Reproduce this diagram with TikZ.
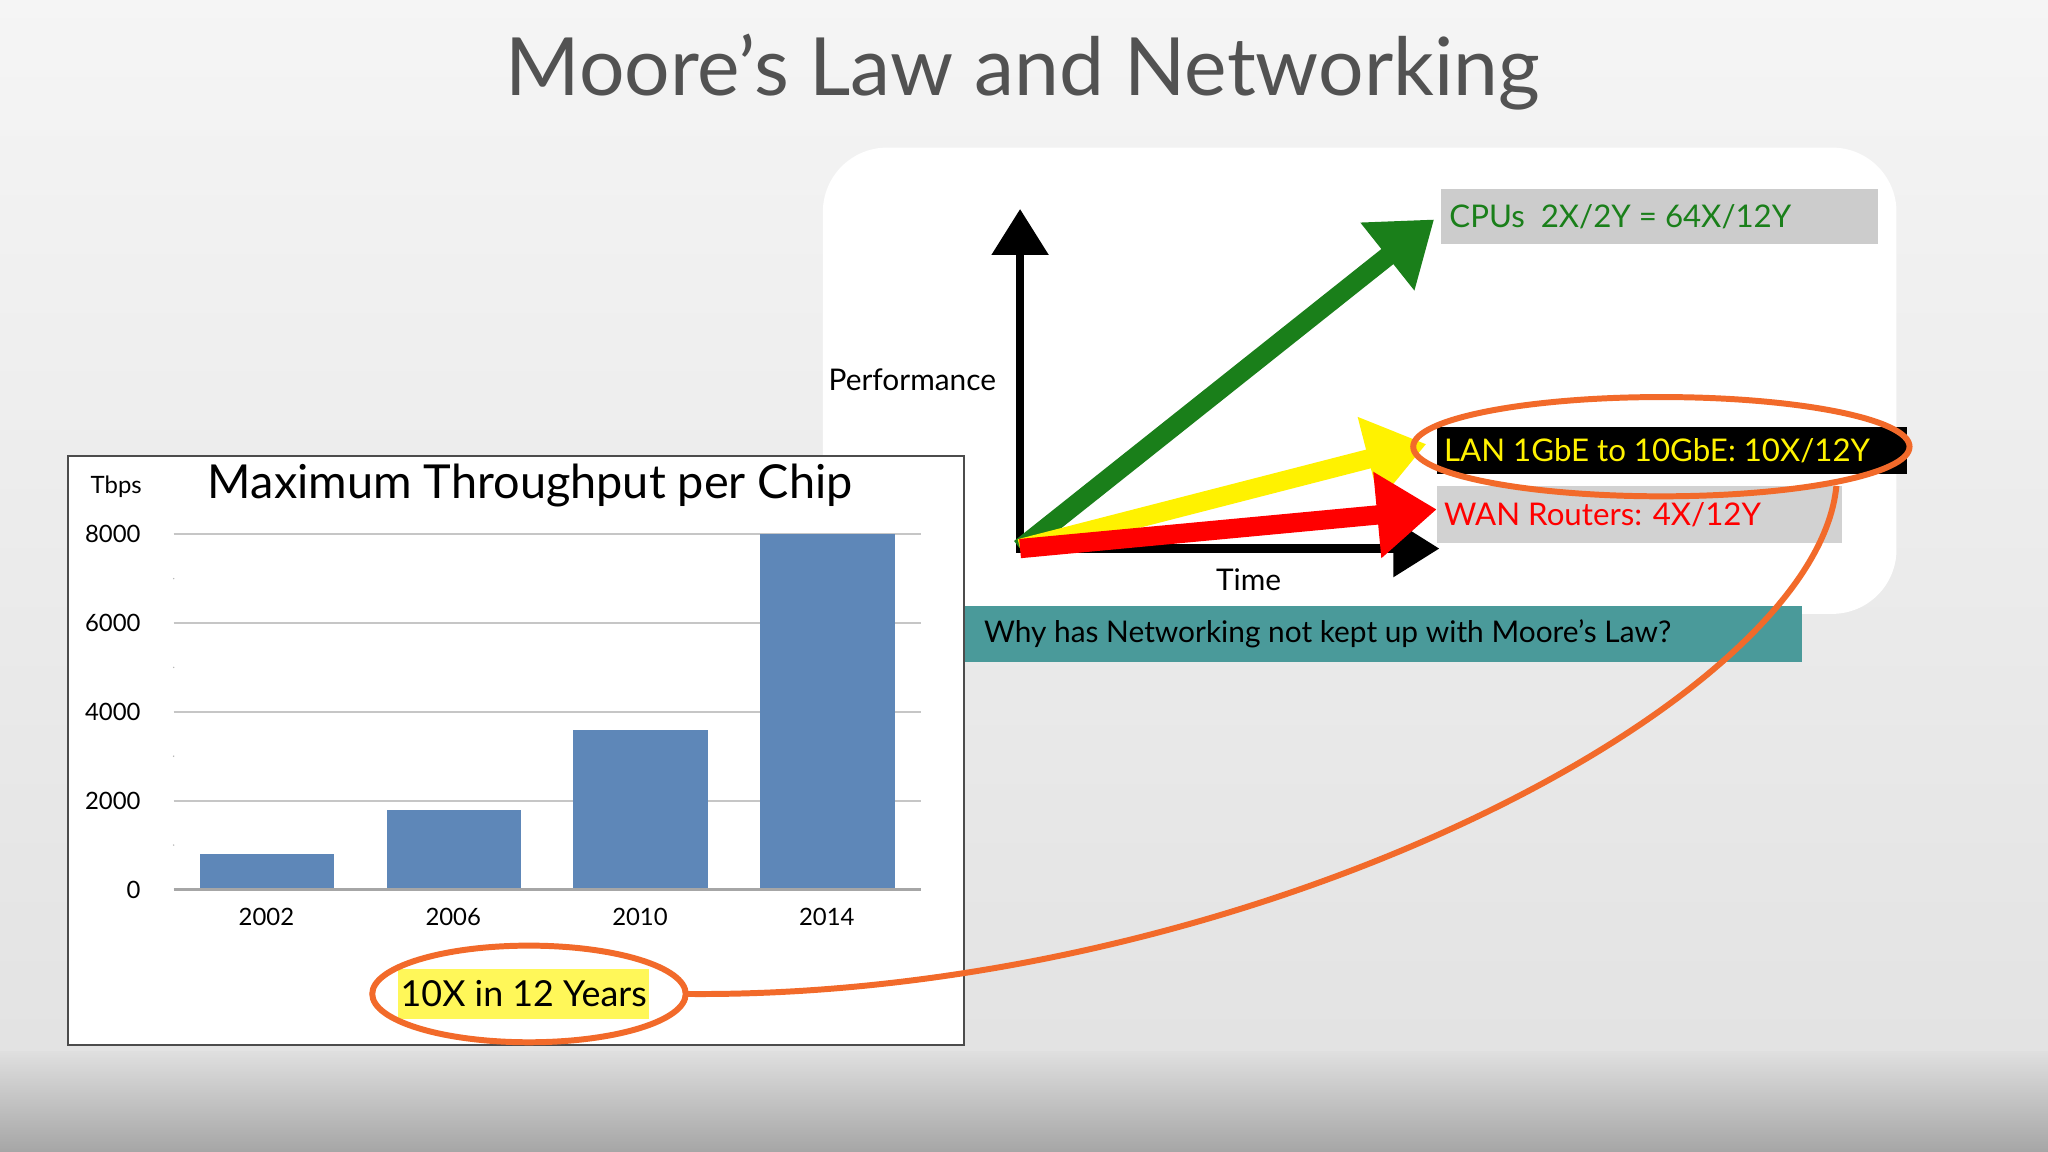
\documentclass[tikz,border=0pt]{standalone}
\usepackage{fontspec}
\setmainfont{Lato}
\usetikzlibrary{arrows.meta}
\definecolor{bar}{HTML}{5E87B8}
\definecolor{org}{HTML}{F26A2A}
\definecolor{teal2}{HTML}{4A9A9A}
\definecolor{grn}{HTML}{1A7F1A}
\tikzset{
 fs/.style={font=\fontsize{#1}{#1}\selectfont},
 bigarrow/.style={line width=4.2pt,-{Triangle[length=13pt,width=18pt]}},
 axis/.style={line width=1.8pt,-{Triangle[length=10pt,width=12pt]}},
 lbl/.style={anchor=west,fs=6.8,inner sep=0pt},
 grid/.style={draw=gray!45,line width=0.4pt},
 ytick/.style={anchor=east,fs=5.2},
 year/.style={fs=5.2},
 barst/.style={fill=bar,draw=none}
}
\begin{document}
\begin{tikzpicture}[x=0.01cm,y=-0.01cm]
\useasboundingbox (0,0) rectangle (1568,882);
\shade[top color=gray!8,bottom color=gray!22] (0,0) rectangle (1568,805);
\shade[top color=gray!25,bottom color=gray!70] (0,805) rectangle (1568,882);
\node[fs=17.5,text=black!68] (title) at (783,55) {Moore’s Law and Networking};
% white panel
\fill[white,rounded corners=14pt] (630,113) rectangle (1452,470);
% axes
\coordinate (o) at (781,420);
\coordinate (ytop) at (781,160);
\coordinate (xend) at (1102,420);
\draw[axis] (781,422) -- (ytop);
\draw[axis] (778,420) -- (xend);
\node[fs=6.5,anchor=east] (perf) at (775,291) {Performance};
\node[fs=6.5] (time) at (956,444) {Time};
% label boxes
\fill[gray!40] (1103,145) rectangle (1438,187);
\fill[black] (1100,327) rectangle (1460,363);
\fill[gray!35] (1100,372) rectangle (1410,416);
\node[lbl,text=grn] (cpu) at (1109,166) {CPUs\ \ 2X/2Y = 64X/12Y};
\node[lbl,text=yellow] (lan) at (1105,345) {LAN 1GbE to 10GbE: 10X/12Y};
\node[lbl,text=red] (wan) at (1105,394) {WAN Routers: 4X/12Y};
% arrows
\draw[bigarrow,grn] (o) -- (1098,168);
\draw[bigarrow,yellow] (o) -- (1092,340);
\draw[bigarrow,red] (o) -- (1100,390);
\draw[org,line width=1.3pt] (1272,342) ellipse (190 and 38);
% teal bar
\fill[teal2] (738,464) rectangle (1380,507);
\node[fs=6.5,anchor=west] (whyt) at (741,485) {Why has Networking not kept up with Moore’s Law?};
% chart
\draw[fill=white,draw=black!70,line width=0.5pt] (52,349) rectangle (738,800);
\node[fs=5.2] (tbps) at (89,373) {Tbps};
\node[fs=10.2] (ct) at (406,372) {Maximum Throughput per Chip};
\foreach \v/\y in {0/681,2000/613,4000/545,6000/477,8000/409}{
 \draw[grid] (133,\y) -- (705,\y);
 \node[ytick] at (120,\y) {\v};}
\foreach \y in {443,511,579,647}{\fill[gray!60] (133,\y) circle (0.6);}
\fill[barst] (153,654) rectangle (256,681);
\fill[barst] (296,620) rectangle (399,681);
\fill[barst] (439,559) rectangle (542,681);
\fill[barst] (582,409) rectangle (685,681);
\draw[gray!70,line width=0.6pt] (133,681) -- (705,681);
\foreach \x/\t in {204/2002,347/2006,490/2010,633/2014}{\node[year] at (\x,702) {\t};}
\fill[yellow!65] (305,742) rectangle (497,780);
\node[fs=7.8] (ten) at (401,761) {10X in 12 Years};
\draw[org,line width=1.3pt] (405,761) ellipse (120 and 37);
\coordinate (c1) at (525,761);
\draw[org,line width=1.3pt] (c1) .. controls (950,765) and (1390,540) .. (1406,372);
\end{tikzpicture}
\end{document}
